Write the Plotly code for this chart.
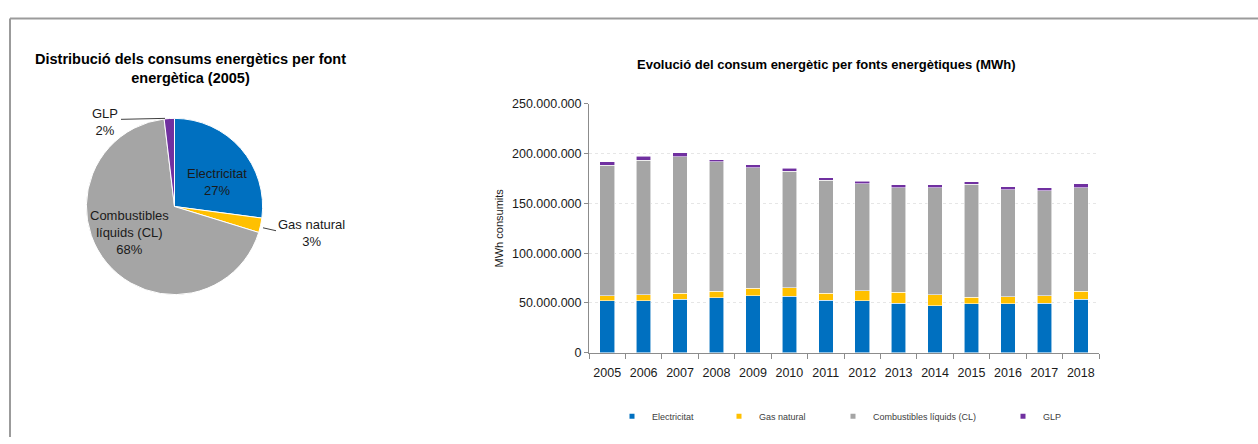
import plotly.graph_objects as go

W, H = 1258, 444

years = ["2005", "2006", "2007", "2008", "2009", "2010", "2011", "2012",
         "2013", "2014", "2015", "2016", "2017", "2018"]
series_names = ["Electricitat", "Gas natural", "Combustibles líquids (CL)", "GLP"]
colors = ["#0070C0", "#FFC000", "#A5A5A5", "#7030A0"]

# MWh (millions)
electricitat = [52.0, 52.0, 53.9, 55.2, 57.1, 56.8, 52.9, 52.0, 49.7, 47.4, 49.0, 49.0, 49.7, 53.9]
gas_natural = [5.1, 6.1, 5.8, 6.5, 7.5, 8.5, 6.8, 10.3, 11.0, 10.7, 6.8, 7.2, 7.4, 7.8]
combustibles = [131.2, 135.4, 137.1, 129.9, 121.4, 117.2, 113.7, 107.5, 104.9, 107.5, 113.4, 107.4, 105.6, 104.2]
glp = [3.6, 3.9, 4.2, 2.2, 3.0, 2.9, 2.3, 2.3, 2.9, 2.9, 2.6, 3.0, 2.9, 3.6]

pie_labels = ["Electricitat", "Gas natural", "Combustibles<br>líquids (CL)", "GLP"]

series = [electricitat, gas_natural, combustibles, glp]
series_mwh = [[v * 1e6 for v in s] for s in series]


def px(x):
    return x / W


def py(y):
    return 1 - y / H


FONT = "Arial, Liberation Sans, sans-serif"

fig = go.Figure()

# Stacked bars
for name, vals, col in zip(series_names, series_mwh, colors):
    fig.add_trace(go.Bar(
        x=years, y=vals, name=name, showlegend=False,
        marker=dict(color=col, line=dict(color="rgba(255,255,255,0.7)", width=0.8)),
        xaxis="x", yaxis="y",
    ))

# Legend entries (one legend each, for Excel-like spacing)
legend_keys = ["legend", "legend2", "legend3", "legend4"]
for name, col, lk in zip(series_names, colors, legend_keys):
    fig.add_trace(go.Scatter(
        x=[None], y=[None], mode="markers", name=name, legend=lk,
        marker=dict(symbol="square", size=5, color=col),
        xaxis="x", yaxis="y",
    ))

# Pie (2005 distribution)
pie_vals = [s[0] for s in series]
fig.add_trace(go.Pie(
    labels=series_names, values=pie_vals, sort=False, direction="clockwise",
    rotation=0, textinfo="none", hoverinfo="label+percent", showlegend=False,
    marker=dict(colors=colors, line=dict(color="white", width=1)),
    domain=dict(x=[px(84), px(265)], y=[py(297), py(115)]),
))

total = sum(pie_vals)
pcts = [round(v / total * 100) for v in pie_vals]

annotations = []
label_pos = [(217, 181), (311, 233), (129, 233), (105, 119)]
for lab, p, (lx, ly) in zip(pie_labels, pcts, label_pos):
    annotations.append(dict(
        x=px(lx), y=py(ly), xref="paper", yref="paper", showarrow=False,
        text=f"{lab}<br>{p}%", font=dict(family=FONT, size=13, color="#1a1a1a"),
        xanchor="center", yanchor="middle", align="center",
    ))

annotations.append(dict(
    x=px(190), y=py(63), xref="paper", yref="paper", showarrow=False,
    text="<b>Distribució dels consums energètics per font<br>energètica (2005)</b>",
    font=dict(family=FONT, size=14.5, color="#000000"),
    xanchor="center", yanchor="middle", align="center",
))
annotations.append(dict(
    x=px(826), y=py(59), xref="paper", yref="paper", showarrow=False,
    text="<b>Evolució del consum energètic per fonts energètiques (MWh)</b>",
    font=dict(family=FONT, size=13, color="#000000"),
    xanchor="center", yanchor="middle",
))

shapes = [
    dict(type="line", xref="paper", yref="paper", x0=px(10), x1=px(1258), y0=py(12), y1=py(12),
         line=dict(color="#9b9b9b", width=2)),
    dict(type="line", xref="paper", yref="paper", x0=px(10), x1=px(10), y0=py(12), y1=py(444),
         line=dict(color="#9b9b9b", width=2)),
    # leader lines for pie labels
    dict(type="line", xref="paper", yref="paper", x0=px(121), x1=px(165), y0=py(116), y1=py(115),
         line=dict(color="#404040", width=1)),
    dict(type="line", xref="paper", yref="paper", x0=px(263), x1=px(276), y0=py(228), y1=py(231),
         line=dict(color="#404040", width=1)),
]

legend_text_x = [652, 759, 873, 1043]
layout_legends = {}
for lk, tx in zip(legend_keys, legend_text_x):
    layout_legends[lk] = dict(
        x=px(tx - 40), y=py(422.5), xanchor="left", yanchor="middle",
        orientation="h", bgcolor="rgba(0,0,0,0)", borderwidth=0,
        font=dict(family=FONT, size=9, color="#404040"),
    )

fig.update_layout(
    width=W, height=H, margin=dict(l=0, r=0, t=0, b=0),
    paper_bgcolor="white", plot_bgcolor="white",
    barmode="stack", bargap=0.6,
    separators=",.",
    font=dict(family=FONT, color="#1a1a1a"),
    xaxis=dict(
        domain=[px(589), px(1099)], type="category",
        showline=True, linecolor="#8c8c8c", linewidth=1,
        ticks="outside", ticklen=5, tickcolor="#8c8c8c", tickson="boundaries",
        tickangle=0, ticklabelstandoff=8,
        tickfont=dict(family=FONT, size=12.5, color="#1a1a1a"),
        showgrid=False, zeroline=False, fixedrange=True,
    ),
    yaxis=dict(
        domain=[py(357), py(100)], range=[0, 250e6], dtick=50e6,
        tickformat=",.0f",
        showline=True, linecolor="#8c8c8c", linewidth=1,
        ticks="outside", ticklen=4, tickcolor="#8c8c8c",
        tickfont=dict(family=FONT, size=12.5, color="#1a1a1a"),
        showgrid=True, gridcolor="#e6e6e6", griddash="dot", gridwidth=1,
        zeroline=False, fixedrange=True,
        title=dict(text="MWh consumits", font=dict(family=FONT, size=11, color="#1a1a1a"), standoff=6),
    ),
    annotations=annotations,
    shapes=shapes,
    **layout_legends,
)

fig.write_html("out.html")
